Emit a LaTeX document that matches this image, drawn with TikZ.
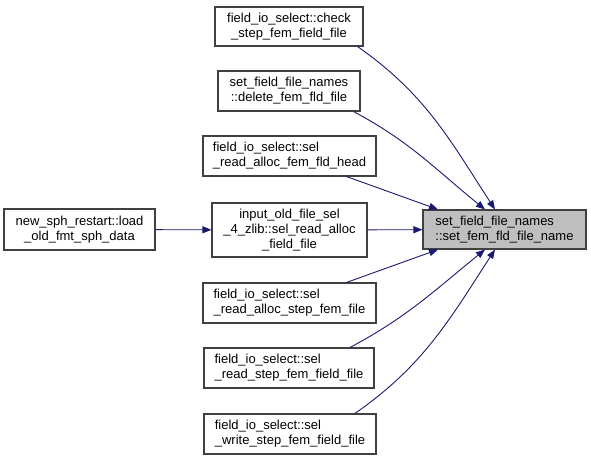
\documentclass[tikz,border=0pt]{standalone}
\usepackage{fontspec}
\setmainfont{Liberation Sans}
\usetikzlibrary{arrows.meta,positioning}
\definecolor{dxblue}{HTML}{191970}
\definecolor{dxgray}{HTML}{BFBFBF}
\tikzset{
  >={Triangle[length=9pt,width=7pt]},
  % boxes
  fnode/.style={rectangle,draw=black!75,fill=white,line width=1.1pt,inner sep=2pt,
                font=\fontsize{13pt}{15pt}\selectfont,align=center},
  tnode/.style={fnode,fill=dxgray,align=left},
  % calls
  fedge/.style={->,draw=dxblue,line width=0.9pt},
}
\begin{document}
\begin{tikzpicture}[x=1pt,y=1pt]
\useasboundingbox (0,0) rectangle (591,-460);
  \node[tnode,minimum width=163pt,minimum height=39pt] (tgt) at (504.5,-229.5)
       {set\_field\_file\_names\\::set\_fem\_fld\_file\_name};
  \node[fnode,minimum width=148pt,minimum height=39pt] (chk) at (289,-26.5)
       {field\_io\_select::check\\\_step\_fem\_field\_file};
  \node[fnode,minimum width=142pt,minimum height=40pt] (del) at (289,-91)
       {set\_field\_file\_names\\::delete\_fem\_fld\_file};
  \node[fnode,align=left,minimum width=173pt,minimum height=40pt] (head) at (289.5,-156)
       {field\_io\_select::sel\\\_read\_alloc\_fem\_fld\_head};
  \node[fnode,minimum width=155pt,minimum height=54pt] (zlib) at (289.5,-230)
       {input\_old\_file\_sel\\\_4\_zlib::sel\_read\_alloc\\\_field\_file};
  \node[fnode,align=left,minimum width=173pt,minimum height=40pt] (astep) at (289.5,-303)
       {field\_io\_select::sel\\\_read\_alloc\_step\_fem\_file};
  \node[fnode,align=left,minimum width=170pt,minimum height=40pt] (rstep) at (289,-368)
       {field\_io\_select::sel\\\_read\_step\_fem\_field\_file};
  \node[fnode,align=left,minimum width=172pt,minimum height=40pt] (wstep) at (290,-434)
       {field\_io\_select::sel\\\_write\_step\_fem\_field\_file};
  \node[fnode,minimum width=151pt,minimum height=41pt] (load) at (79.5,-229.5)
       {new\_sph\_restart::load\\\_old\_fmt\_sph\_data};
  % callers
  \draw[fedge] ([xshift=-6pt]chk.south east) to[out=-35,in=123] ([xshift=-9.5pt]tgt.north);
  \draw[fedge] ([xshift=-7pt]del.south east) to[out=-28,in=141] ([xshift=-19.5pt]tgt.north);
  \draw[fedge] ([xshift=57pt]head.south) -- ([xshift=-66.5pt]tgt.north);
  \draw[fedge] (zlib) -- (tgt);
  \draw[fedge] (load) -- (zlib);
  \draw[fedge] ([xshift=57pt]astep.north) -- ([xshift=-66.5pt]tgt.south);
  \draw[fedge] ([xshift=61pt]rstep.north) to[out=28,in=-141] ([xshift=-19.5pt]tgt.south);
  \draw[fedge] ([xshift=65pt]wstep.north) to[out=35,in=-123] ([xshift=-9.5pt]tgt.south);
\end{tikzpicture}
\end{document}
